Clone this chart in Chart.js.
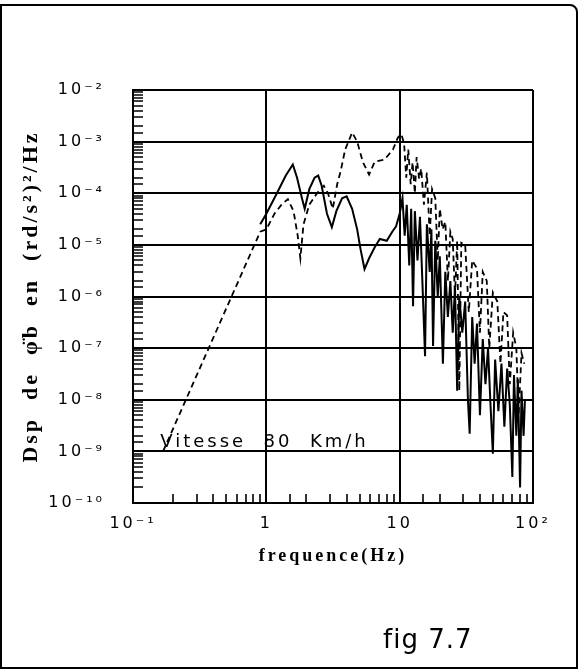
<!DOCTYPE html>
<html><head><meta charset="utf-8">
<script src="https://cdn.jsdelivr.net/npm/chart.js@4"></script>
<style>
html,body{margin:0;padding:0;background:#fff;}
#wrap{position:relative;width:579px;height:669px;overflow:hidden;}
#frame{position:absolute;left:0;top:4px;width:578px;height:665px;border:2px solid #000;border-top-right-radius:8px;box-sizing:border-box;}
#fig{position:absolute;left:383px;top:624px;font:26px "DejaVu Sans";color:#000;letter-spacing:1px;}
canvas{position:absolute;left:0;top:0;}
</style></head>
<body>
<div id="wrap">
<div id="frame"></div>
<canvas id="c" width="579" height="669"></canvas>
<div id="fig">fig 7.7</div>
</div>
<script>
// ---- data ----
const freqSolid = [0.9,1.0,1.2,1.4,1.58,1.7,1.85,1.94,2.1,2.3,2.45,2.6,2.85,3.1,3.35,3.7,4.0,4.4,4.8,5.1,5.45,5.9,6.5,7.1,8.0,8.8,9.4,10.0,10.5,10.9,11.3,11.8,12.2,12.6,13.0,13.6,14.2,14.8,15.5,16.0,16.8,17.3,17.8,18.5,19.3,20.0,21.1,22.0,23.0,24.0,25.0,26.0,27.0,28.0,29.5,31.0,32.5,33.5,35.0,36.5,38.0,40.0,42.0,44.0,46.0,48.0,50.0,52.0,55.0,58.0,61.0,64.0,67.0,70.0,72.0,75.0,77.0,80.0,82.0,85.0,87.0];
const psdSolid = [2.5e-5,4.0e-5,1.0e-4,2.2e-4,3.6e-4,2.0e-4,8.0e-5,5.0e-5,1.2e-4,2.0e-4,2.2e-4,1.4e-4,4.0e-5,2.2e-5,4.5e-5,8.0e-5,8.7e-5,5.0e-5,2.0e-5,8.0e-6,3.4e-6,5.5e-6,9.0e-6,1.3e-5,1.2e-5,1.8e-5,2.3e-5,4.0e-5,8.0e-5,1.5e-5,6.0e-5,4.0e-6,5.0e-5,6.5e-7,4.5e-5,5.0e-6,3.5e-5,2.0e-6,7.0e-8,2.5e-5,3.0e-6,2.0e-5,1.1e-7,1.2e-5,1.0e-6,6.0e-6,5.0e-8,3.0e-6,4.0e-7,2.0e-6,2.0e-7,1.5e-6,1.5e-8,1.0e-6,2.0e-7,8.0e-7,1.0e-8,2.2e-9,4.0e-7,5.0e-8,3.0e-7,5.0e-9,1.5e-7,2.0e-8,1.0e-7,8.0e-9,9.0e-10,6.0e-8,6.0e-9,5.0e-8,3.0e-9,4.0e-8,8.0e-9,3.2e-10,3.0e-8,2.0e-9,2.5e-8,2.0e-10,1.5e-8,2.0e-9,1.0e-8];

const freqDash = [0.168,0.9,1.0,1.15,1.3,1.45,1.6,1.72,1.8,1.9,2.1,2.4,2.7,2.9,3.15,3.4,3.6,3.9,4.4,4.8,5.3,5.9,6.5,7.7,8.9,9.7,10.3,10.8,11.2,11.6,12.1,12.5,13.0,13.4,14.0,14.5,15.2,16.0,16.8,17.5,18.5,19.3,20.0,21.0,22.0,23.0,24.0,25.0,26.0,27.0,28.0,29.0,31.0,33.0,35.0,38.0,40.0,42.0,45.0,47.0,50.0,54.0,57.0,60.0,64.0,67.0,71.0,75.0,78.0,82.0,86.0];
const psdDash = [1.0e-9,1.8e-5,2.0e-5,4.0e-5,6.0e-5,7.7e-5,4.5e-5,1.5e-5,5.5e-6,2.5e-5,6.0e-5,1.0e-4,1.4e-4,1.0e-4,5.0e-5,1.5e-4,2.6e-4,7.0e-4,1.5e-3,1.0e-3,4.0e-4,2.3e-4,4.1e-4,4.5e-4,7.0e-4,1.2e-3,1.4e-3,9.0e-4,2.0e-4,7.0e-4,1.5e-4,4.0e-4,1.0e-4,5.0e-4,1.9e-4,3.0e-4,6.0e-5,2.5e-4,1.5e-5,1.2e-4,8.0e-5,5.0e-6,5.0e-5,2.0e-5,2.8e-5,2.0e-6,1.8e-5,1.3e-5,1.0e-6,1.2e-5,1.5e-8,1.1e-5,1.0e-5,5.0e-7,5.0e-6,3.5e-6,2.0e-7,3.0e-6,2.0e-6,1.0e-7,1.2e-6,8.0e-7,5.0e-8,5.0e-7,4.3e-7,2.0e-8,2.0e-7,1.0e-7,5.0e-9,8.0e-8,5.0e-8];

const xTickValues = [0.1, 1, 10, 100];
const xTickLabels = ['10⁻¹', '1', '10', '10²'];
const yTickValues = [1e-2,1e-3,1e-4,1e-5,1e-6,1e-7,1e-8,1e-9,1e-10];
const yTickLabels = ['10⁻²','10⁻³','10⁻⁴','10⁻⁵','10⁻⁶','10⁻⁷','10⁻⁸','10⁻⁹','10⁻¹⁰'];

const xTitle = 'frequence(Hz)';
const yTitle = 'Dsp  de  φ̈b  en  (rd/s²)²/Hz';
const noteText = 'Vitesse  80  Km/h';
const noteAt = [0.16, 1.2e-9];

// ---- helpers ----
const pts = (xs, ys) => xs.map((x, i) => ({x, y: ys[i]}));
const findTick = (vals, v) => vals.findIndex(t => Math.abs(v / t - 1) < 1e-6);
const labeler = (vals, labs) => v => { const i = findTick(vals, v); return i < 0 ? '' : labs[i]; };
const gridColor = vals => c => (c.tick && findTick(vals, c.tick.value) >= 0) ? '#000' : 'rgba(0,0,0,0)';

const spacing = {
  id: 'spacing',
  beforeDraw(c) { c.ctx.letterSpacing = '3px'; },
  afterDraw(c) { c.ctx.letterSpacing = '0px'; }
};
const minorTicks = {
  id: 'minorTicks',
  beforeDatasetsDraw(chart) {
    const {ctx, chartArea: a, scales: {x, y}} = chart;
    ctx.save();
    ctx.strokeStyle = '#000';
    ctx.lineWidth = 1.6;
    ctx.beginPath();
    y.ticks.forEach(t => { const p = Math.round(y.getPixelForValue(t.value)); ctx.moveTo(a.left, p); ctx.lineTo(a.left + 10, p); });
    x.ticks.forEach(t => { const p = Math.round(x.getPixelForValue(t.value)); ctx.moveTo(p, a.bottom); ctx.lineTo(p, a.bottom - 9); });
    ctx.stroke();
    ctx.restore();
  }
};
const note = {
  id: 'note',
  afterDatasetsDraw(chart) {
    const {ctx, scales: {x, y}} = chart;
    ctx.save();
    ctx.font = '18px "DejaVu Sans"';
    ctx.letterSpacing = '3px';
    ctx.fillStyle = '#000';
    ctx.textAlign = 'left';
    ctx.textBaseline = 'alphabetic';
    ctx.fillText(noteText, x.getPixelForValue(noteAt[0]), y.getPixelForValue(noteAt[1]));
    ctx.restore();
  }
};

new Chart(document.getElementById('c'), {
  type: 'scatter',
  data: {
    datasets: [
      { label: 'dashed', data: pts(freqDash, psdDash), showLine: true, borderColor: '#000', borderWidth: 1.8, borderDash: [6, 4], pointRadius: 0, tension: 0, fill: false },
      { label: 'solid', data: pts(freqSolid, psdSolid), showLine: true, borderColor: '#000', borderWidth: 2, pointRadius: 0, tension: 0, fill: false }
    ]
  },
  options: {
    responsive: false,
    animation: false,
    devicePixelRatio: 1,
    layout: { padding: { top: 90, right: 46, left: 0, bottom: 100 } },
    plugins: { legend: { display: false }, tooltip: { enabled: false } },
    scales: {
      x: {
        type: 'logarithmic', min: 0.1, max: 100,
        afterFit: s => { s.height = 66; },
        grid: { color: gridColor(xTickValues), lineWidth: 2, drawTicks: false },
        border: { display: true, color: '#000', width: 2 },
        ticks: { autoSkip: false, maxRotation: 0, padding: 11, color: '#000', font: { family: 'DejaVu Sans', size: 16 }, callback: labeler(xTickValues, xTickLabels) },
        title: { display: true, text: xTitle, color: '#000', font: { family: 'Liberation Serif', size: 18, weight: 'bold' }, padding: { top: 0, bottom: 2 } }
      },
      y: {
        type: 'logarithmic', min: 1e-10, max: 1e-2,
        afterFit: s => { s.width = 133; },
        grid: { color: gridColor(yTickValues), lineWidth: 2, drawTicks: false },
        border: { display: true, color: '#000', width: 2 },
        ticks: { autoSkip: false, padding: 28, color: '#000', font: { family: 'DejaVu Sans', size: 16 }, callback: labeler(yTickValues, yTickLabels) },
        title: { display: true, text: yTitle, color: '#000', font: { family: 'Liberation Serif', size: 22, weight: 'bold' }, padding: { top: 18, bottom: 0 } }
      }
    }
  },
  plugins: [spacing, minorTicks, note]
});
</script>
</body></html>
